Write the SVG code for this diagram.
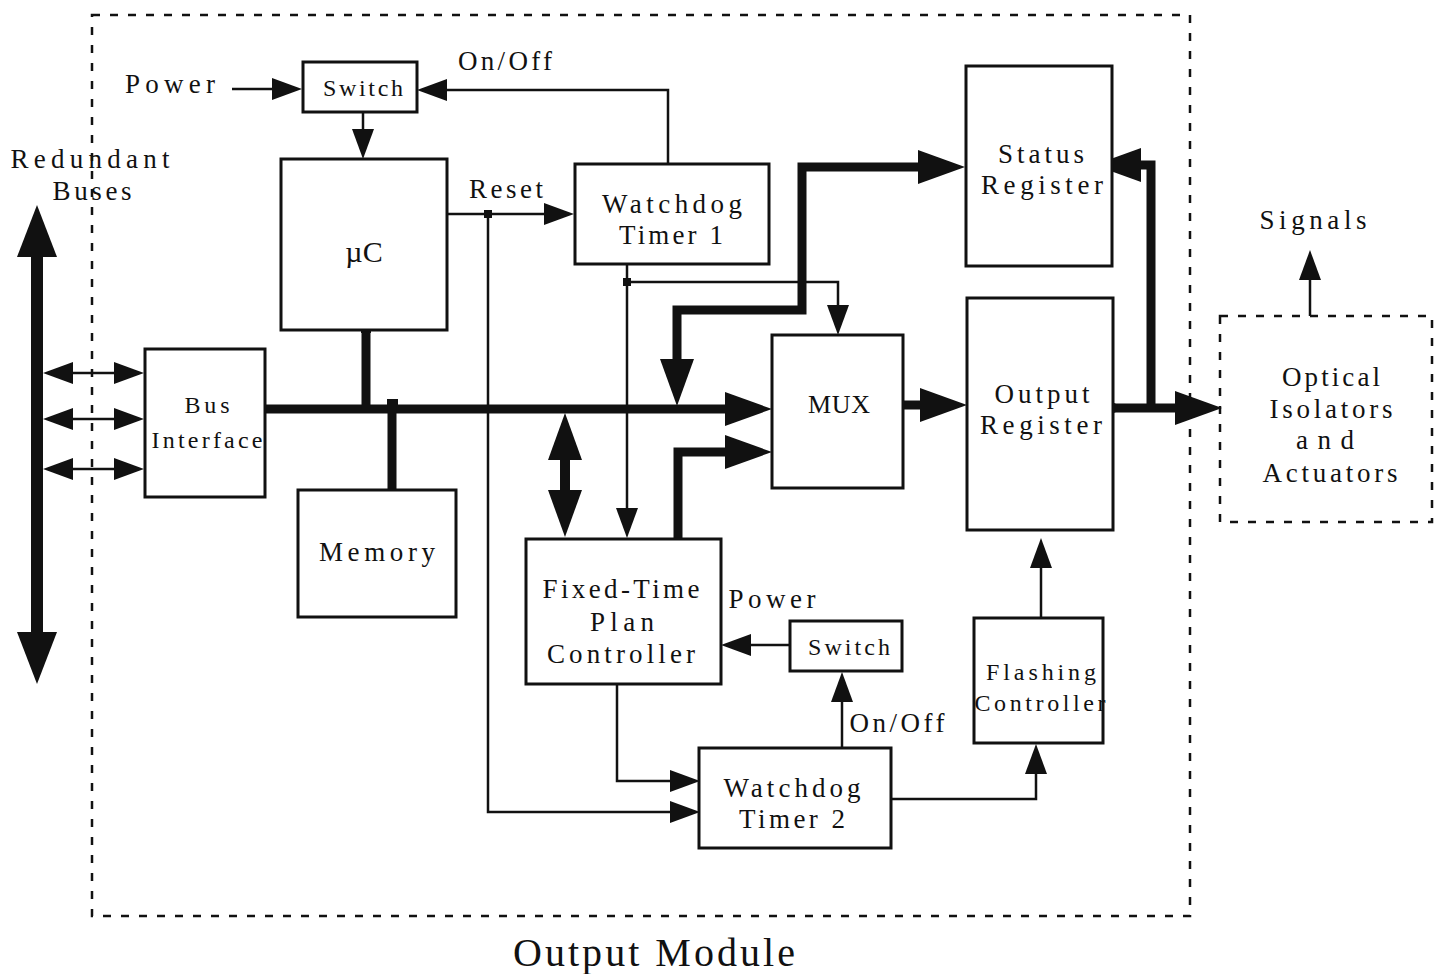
<svg xmlns="http://www.w3.org/2000/svg" width="1444" height="974" viewBox="0 0 1444 974">
<defs>
<style>
.box{fill:#fff;stroke:#111;stroke-width:3}
.dash{fill:none;stroke:#111;stroke-width:2.5;stroke-dasharray:8 10}
.t{font-family:"Liberation Serif","Times New Roman",serif;font-size:27px;fill:#111;text-anchor:middle}
.s{font-size:24px}
.big{font-size:40px}
.ln{fill:none;stroke:#111;stroke-width:2.5}
.tk{fill:none;stroke:#111;stroke-width:9}
.th{marker-end:url(#ah)}
.thb{marker-start:url(#ah);marker-end:url(#ah)}
.tkh{marker-end:url(#AH)}
.tkb{marker-start:url(#AH);marker-end:url(#AH)}
</style>
<marker id="ah" viewBox="0 0 30 22" refX="0" refY="11" markerWidth="30" markerHeight="22" markerUnits="userSpaceOnUse" orient="auto-start-reverse"><path d="M0,0 L30,11 L0,22 z" fill="#111"/></marker>
<marker id="AH" viewBox="0 0 47 34" refX="0" refY="17" markerWidth="47" markerHeight="34" markerUnits="userSpaceOnUse" orient="auto-start-reverse"><path d="M0,0 L47,17 L0,34 z" fill="#111"/></marker>
<marker id="BH" viewBox="0 0 52 40" refX="0" refY="20" markerWidth="52" markerHeight="40" markerUnits="userSpaceOnUse" orient="auto-start-reverse"><path d="M0,0 L52,20 L0,40 z" fill="#111"/></marker>
</defs>
<rect width="1444" height="974" fill="#fff"/>

<g id="output-module">
<rect class="dash" x="92" y="15" width="1098" height="901"/>
<text class="t big" x="654" y="966" textLength="282" lengthAdjust="spacing">Output Module</text>
</g>

<g id="connectors">
<path class="ln th" d="M232,89 H272"/>
<path class="ln th" d="M668,164 V90 H447"/>
<path class="ln th" d="M363,112 V129"/>
<path class="ln th" d="M447,214 H544"/>
<rect x="484" y="210" width="8" height="8" fill="#111"/>
<path class="ln th" d="M488,214 V812 H670"/>
<path class="ln th" d="M627,264 V508"/>
<rect x="623" y="278" width="8" height="8" fill="#111"/>
<path class="ln th" d="M627,282 H838 V305"/>
<path class="ln th" d="M617,684 V781 H670"/>
<path class="ln th" d="M790,645 H751"/>
<path class="ln th" d="M842,748 V702"/>
<path class="ln th" d="M891,799 H1036 V774"/>
<path class="ln th" d="M1041,618 V568"/>
<path class="ln th" d="M1310,316 V280"/>
<path class="ln thb" d="M73,373 H114"/>
<path class="ln thb" d="M73,419 H114"/>
<path class="ln thb" d="M73,469 H114"/>
<path fill="none" stroke="#111" stroke-width="12" marker-start="url(#BH)" marker-end="url(#BH)" d="M37,257 V632"/>
<path class="tk tkh" d="M265,409 H725"/>
<path class="tk" d="M366,330 V409"/>
<rect x="361" y="326" width="10" height="7" fill="#111"/>
<path class="tk" d="M392,401 V490"/>
<rect x="387" y="399" width="11" height="6" fill="#111"/>
<path class="tk tkb" d="M677,359 V310 H802 V167 H918"/>
<path class="tk tkh" d="M678,543 V452 H725"/>
<path fill="none" stroke="#111" stroke-width="10" marker-start="url(#AH)" marker-end="url(#AH)" d="M565,460 V490"/>
<path class="tk tkh" d="M903,405 H920"/>
<path class="tk tkh" d="M1113,408 H1175"/>
<path class="tk tkh" d="M1151,408 V165 H1141"/>
<circle cx="1113" cy="408" r="5" fill="#111"/>
</g>

<g id="switch1">
<rect class="box" x="303" y="62" width="114" height="50"/>
<text class="t s" x="363" y="96" textLength="80" lengthAdjust="spacing">Switch</text>
</g>
<g id="power1-label"><text class="t" x="170" y="93" textLength="90" lengthAdjust="spacing">Power</text></g>
<g id="onoff1-label"><text class="t" x="505" y="70" textLength="94" lengthAdjust="spacing">On/Off</text></g>
<g id="reset-label"><text class="t" x="506" y="198" textLength="74" lengthAdjust="spacing">Reset</text></g>
<g id="redundant-buses">
<text class="t" x="90" y="168" textLength="159" lengthAdjust="spacing">Redundant</text>
<text class="t" x="92" y="200" textLength="79" lengthAdjust="spacing">Buses</text>
</g>

<g id="uc">
<rect class="box" x="281" y="159" width="166" height="171"/>
<text class="t" x="364" y="262" style="font-size:30px">µC</text>
</g>

<g id="watchdog1">
<rect class="box" x="575" y="164" width="194" height="100"/>
<text class="t" x="672" y="213" textLength="140" lengthAdjust="spacing">Watchdog</text>
<text class="t" x="671" y="244" textLength="104" lengthAdjust="spacing">Timer 1</text>
</g>

<g id="status-register">
<rect class="box" x="966" y="66" width="146" height="200"/>
<text class="t" x="1041" y="163" textLength="86" lengthAdjust="spacing">Status</text>
<text class="t" x="1042" y="194" textLength="122" lengthAdjust="spacing">Register</text>
</g>

<g id="bus-interface">
<rect class="box" x="145" y="349" width="120" height="148"/>
<text class="t s" x="207" y="413" textLength="45" lengthAdjust="spacing">Bus</text>
<text class="t s" x="207" y="448" textLength="111" lengthAdjust="spacing">Interface</text>
</g>

<g id="memory">
<rect class="box" x="298" y="490" width="158" height="127"/>
<text class="t" x="377" y="561" textLength="116" lengthAdjust="spacing">Memory</text>
</g>

<g id="mux">
<rect class="box" x="772" y="335" width="131" height="153"/>
<text class="t" x="839" y="413" style="font-size:26px" textLength="62" lengthAdjust="spacing">MUX</text>
</g>

<g id="output-register">
<rect class="box" x="967" y="298" width="146" height="232"/>
<text class="t" x="1042" y="403" textLength="95" lengthAdjust="spacing">Output</text>
<text class="t" x="1041" y="434" textLength="122" lengthAdjust="spacing">Register</text>
</g>

<g id="optical-isolators">
<rect class="dash" x="1220" y="316" width="212" height="206"/>
<text class="t" x="1331" y="386" textLength="98" lengthAdjust="spacing">Optical</text>
<text class="t" x="1331" y="418" textLength="123" lengthAdjust="spacing">Isolators</text>
<text class="t" x="1325" y="449" textLength="58" lengthAdjust="spacing">and</text>
<text class="t" x="1330" y="482" textLength="135" lengthAdjust="spacing">Actuators</text>
</g>
<g id="signals-label"><text class="t" x="1313" y="229" textLength="107" lengthAdjust="spacing">Signals</text></g>

<g id="fixed-time-plan-controller">
<rect class="box" x="526" y="539" width="195" height="145"/>
<text class="t" x="621" y="598" textLength="157" lengthAdjust="spacing">Fixed-Time</text>
<text class="t" x="622" y="631" textLength="64" lengthAdjust="spacing">Plan</text>
<text class="t" x="621" y="663" textLength="148" lengthAdjust="spacing">Controller</text>
</g>
<g id="power2-label"><text class="t" x="772" y="608" textLength="87" lengthAdjust="spacing">Power</text></g>

<g id="switch2">
<rect class="box" x="790" y="621" width="112" height="50"/>
<text class="t s" x="849" y="655" textLength="82" lengthAdjust="spacing">Switch</text>
</g>
<g id="onoff2-label"><text class="t" x="897" y="732" textLength="95" lengthAdjust="spacing">On/Off</text></g>

<g id="watchdog2">
<rect class="box" x="699" y="748" width="192" height="100"/>
<text class="t" x="792" y="797" textLength="137" lengthAdjust="spacing">Watchdog</text>
<text class="t" x="792" y="828" textLength="106" lengthAdjust="spacing">Timer 2</text>
</g>

<g id="flashing-controller">
<rect class="box" x="974" y="618" width="129" height="125"/>
<text class="t s" x="1041" y="680" textLength="110" lengthAdjust="spacing">Flashing</text>
<text class="t s" x="1040" y="711" textLength="131" lengthAdjust="spacing">Controller</text>
</g>
</svg>
